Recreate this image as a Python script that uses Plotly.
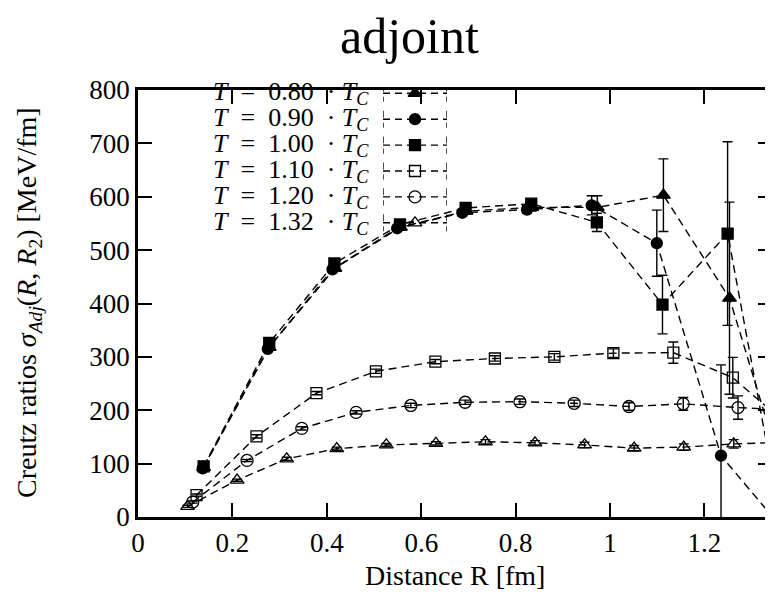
import plotly.graph_objects as go

# ---------------- data ----------------
labels = ["0.80", "0.90", "1.00", "1.10", "1.20", "1.32"]

x_080 = [0.139, 0.278, 0.417, 0.556, 0.695, 0.834, 0.973, 1.113, 1.253, 1.392]
y_080 = [93, 318, 466, 543, 573, 580, 580, 603, 410, 5]
e_080 = [4, 5, 5, 5, 6, 7, 22, 68, 180, 0]

x_090 = [0.137, 0.275, 0.412, 0.549, 0.687, 0.824, 0.961, 1.099, 1.235, 1.373]
y_090 = [91, 315, 464, 541, 570, 576, 584, 513, 115, -30]
e_090 = [4, 5, 5, 5, 6, 7, 18, 62, 170, 0]

x_100 = [0.139, 0.278, 0.416, 0.555, 0.694, 0.833, 0.972, 1.111, 1.249, 1.388]
y_100 = [95, 326, 475, 548, 579, 587, 552, 398, 531, -130]
e_100 = [4, 5, 5, 5, 6, 7, 17, 55, 172, 0]

x_110 = [0.124, 0.251, 0.378, 0.504, 0.630, 0.756, 0.882, 1.007, 1.134, 1.260, 1.386]
y_110 = [41, 151, 232, 273, 291, 297, 300, 307, 308, 261, 165]
e_110 = [2, 3, 3, 4, 4, 5, 6, 8, 20, 38, 0]

x_120 = [0.116, 0.231, 0.347, 0.462, 0.578, 0.693, 0.809, 0.924, 1.040, 1.155, 1.271, 1.386]
y_120 = [28, 106, 166, 196, 209, 215, 216, 213, 207, 212, 205, 200]
e_120 = [2, 2, 3, 3, 4, 4, 5, 6, 7, 12, 22, 0]

x_132 = [0.105, 0.210, 0.315, 0.421, 0.526, 0.631, 0.736, 0.841, 0.946, 1.051, 1.156, 1.262, 1.367]
y_132 = [20, 69, 109, 128, 135, 138, 141, 139, 135, 129, 131, 137, 140]
e_132 = [2, 2, 3, 3, 3, 3, 4, 4, 5, 5, 6, 8, 0]

x_ticks = [0, 0.2, 0.4, 0.6, 0.8, 1.0, 1.2]
x_ticktext = ["0", "0.2", "0.4", "0.6", "0.8", "1", "1.2"]
y_ticks = [0, 100, 200, 300, 400, 500, 600, 700, 800]

# ---------------- geometry / styling ----------------
FONT = "Liberation Serif"
OFF = 8                          # default page body margin of the html page
W, H = 773 - OFF, 598 - 2 * OFF  # figure size so the page does not overflow
# plot area wanted in window pixels
PL, PR, PT, PB = 138, 772, 90, 517
ML, MR, MT, MB = PL - OFF, W - (PR - OFF), PT - OFF, H - (PB - OFF)
PW, PH = PR - PL, PB - PT
DASH = "8px,5px"


def px_x(px):   # window px -> paper x
    return (px - PL) / PW


def px_y(py):   # window px -> paper y
    return (PB - py) / PH


series = [
    (x_080, y_080, e_080, "triangle-up", 12),
    (x_090, y_090, e_090, "circle", 11),
    (x_100, y_100, e_100, "square", 11),
    (x_110, y_110, e_110, "square-open", 11),
    (x_120, y_120, e_120, "circle-open", 12),
    (x_132, y_132, e_132, "triangle-up-open", 12),
]

fig = go.Figure()
for xs, ys, es, sym, sz in series:
    fig.add_trace(go.Scatter(
        x=xs, y=ys, mode="lines+markers",
        line=dict(color="black", width=1.4, dash=DASH),
        marker=dict(symbol=sym, size=sz, color="black",
                    line=dict(color="black", width=1.3)),
        error_y=dict(type="data", array=es, visible=True,
                     color="black", thickness=1.4, width=5),
        showlegend=False,
    ))

# ---------------- custom gnuplot-like key ----------------
ROW = 25.9            # px between key rows
ROW0 = 3.3            # px from plot top to first row centre
KEY_X0, KEY_X1 = 383, 447   # window px of key sample
TEXT_RIGHT = 371             # window px right edge of key text
CAP = 0.33                   # half-height of end caps in row units
SP = "\u00a0"

for i, (xs, ys, es, sym, sz) in enumerate(series):
    r = (ROW0 + i * ROW) / ROW
    fig.add_trace(go.Scatter(
        x=[0, 1], y=[r, r], mode="lines", xaxis="x2", yaxis="y2",
        line=dict(color="black", width=1.4, dash="7px,5px"), showlegend=False,
        hoverinfo="skip"))
    fig.add_trace(go.Scatter(
        x=[0, 0, None, 1, 1], y=[r - CAP, r + CAP, None, r - CAP, r + CAP],
        mode="lines", xaxis="x2", yaxis="y2",
        line=dict(color="black", width=1.4, dash="7px,5px"), showlegend=False,
        hoverinfo="skip"))
    fig.add_trace(go.Scatter(
        x=[0.5], y=[r], mode="markers", xaxis="x2", yaxis="y2",
        marker=dict(symbol=sym, size=sz, color="black",
                    line=dict(color="black", width=1.3)),
        showlegend=False, hoverinfo="skip"))
    fig.add_annotation(
        x=px_x(TEXT_RIGHT), xref="paper", y=r, yref="y2",
        xanchor="right", yanchor="middle", showarrow=False,
        text="<i>T</i>" + SP * 2 + "=" + SP * 2 + labels[i] + SP * 2 + "·" + SP
             + "<i>T</i><sub><i>C</i></sub>",
        font=dict(family=FONT, size=26, color="black"))

axis_common = dict(
    showline=True, linecolor="black", linewidth=2.5, mirror="allticks",
    ticks="inside", ticklen=14, tickwidth=2, tickcolor="black",
    showgrid=False, zeroline=False,
    tickfont=dict(family=FONT, size=27, color="black"),
)

fig.update_layout(
    width=W, height=H,
    margin=dict(l=ML, r=MR, t=MT, b=MB, autoexpand=False),
    paper_bgcolor="white", plot_bgcolor="rgba(0,0,0,0)",
    xaxis=dict(range=[0, 1.343], tickvals=x_ticks, ticktext=x_ticktext,
               **axis_common),
    yaxis=dict(range=[0, 800], tickvals=y_ticks, **axis_common),
    xaxis2=dict(domain=[px_x(KEY_X0), px_x(KEY_X1)], range=[0, 1],
                anchor="y2", visible=False, fixedrange=True),
    yaxis2=dict(domain=[0, 1], range=[PH / ROW, 0], anchor="x2",
                visible=False, fixedrange=True),
    showlegend=False,
)

fig.add_annotation(x=px_x(409), xref="paper", y=px_y(36), yref="paper",
                   text="adjoint", showarrow=False, xanchor="center", yanchor="middle",
                   font=dict(family=FONT, size=50, color="black"))
fig.add_annotation(x=px_x(455), xref="paper", y=px_y(575), yref="paper",
                   text="Distance R [fm]", showarrow=False, xanchor="center", yanchor="middle",
                   font=dict(family=FONT, size=28, color="black"))
fig.add_annotation(x=px_x(28), xref="paper", y=px_y(303), yref="paper", textangle=-90,
                   text="Creutz ratios <i>σ</i><sub><i>Adj</i></sub>(<i>R</i>, <i>R</i><sub>2</sub>) [MeV/fm]",
                   showarrow=False, xanchor="center", yanchor="middle",
                   font=dict(family=FONT, size=28, color="black"))

fig.write_html("out.html")
